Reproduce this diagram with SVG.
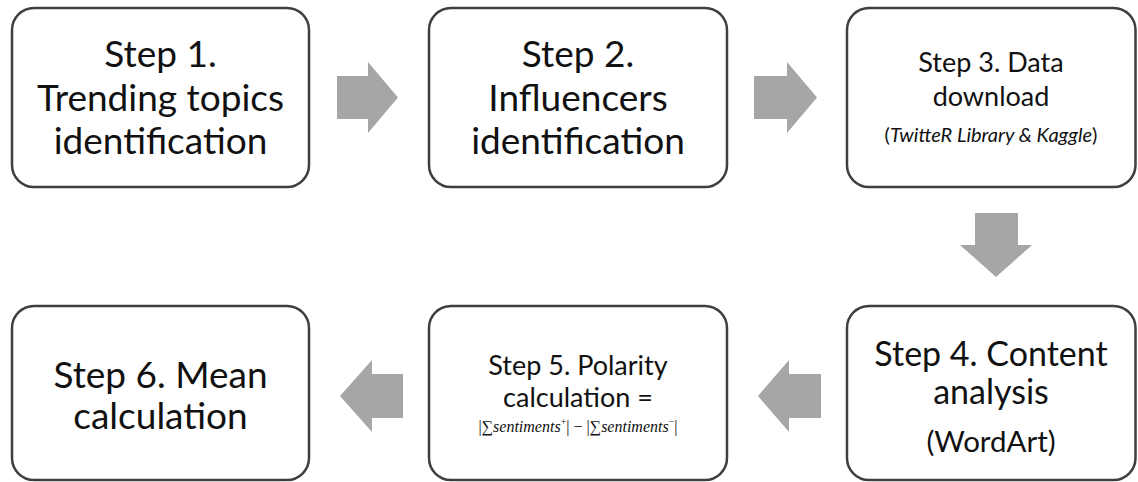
<svg xmlns="http://www.w3.org/2000/svg" width="1138" height="482" viewBox="0 0 1138 482">
  <style>
    .box { fill: #ffffff; stroke: #3f3f3f; stroke-width: 2.5; }
    .arrow { fill: #a6a6a6; stroke: none; }
    .t { font-family: Lato, "Open Sans", "Liberation Sans", sans-serif; fill: #111111; text-anchor: middle; }
    .big { font-size: 37px; }
    .b4 { font-size: 34px; }
    .mid { font-size: 27px; }
    .wa { font-size: 29.5px; }
    .small { font-size: 27px; }
    .note { font-size: 20px; }
    .f { font-family: "Liberation Serif", "DejaVu Serif", serif; font-size: 16px; fill: #111111; text-anchor: middle; }
  </style>
  <rect width="1138" height="482" fill="#ffffff"/>

  <!-- process steps -->
  <g id="step1">
    <rect class="box" x="12" y="8" width="297" height="179" rx="22"/>
    <text class="t big" x="160.5" y="67">Step 1.</text>
    <text class="t big" x="160.5" y="111">Trending topics</text>
    <text class="t big" x="160.5" y="154">identification</text>
  </g>
  <g id="step2">
    <rect class="box" x="429" y="8" width="298" height="179" rx="22"/>
    <text class="t big" x="578" y="67">Step 2.</text>
    <text class="t big" x="578" y="111">Influencers</text>
    <text class="t big" x="578" y="154">identification</text>
  </g>
  <g id="step3">
    <rect class="box" x="847" y="8" width="288.5" height="179" rx="22"/>
    <text class="t small" x="991" y="72">Step 3. Data</text>
    <text class="t small" x="991" y="106">download</text>
    <text class="t note" x="991" y="142">(<tspan font-style="italic">TwitteR Library &amp; Kaggle</tspan>)</text>
  </g>
  <g id="step4">
    <rect class="box" x="847" y="306" width="288.5" height="174" rx="22"/>
    <text class="t b4" x="991" y="366">Step 4. Content</text>
    <text class="t b4" x="991" y="404">analysis</text>
    <text class="t wa" x="991" y="452">(WordArt)</text>
  </g>
  <g id="step5">
    <rect class="box" x="429" y="306" width="298" height="174" rx="22"/>
    <text class="t mid" x="578" y="375">Step 5. Polarity</text>
    <text class="t mid" x="578" y="407">calculation =</text>
    <text class="f" x="578" y="432">|∑<tspan font-style="italic">sentiments</tspan><tspan font-size="10" dy="-7">+</tspan><tspan dy="7">| − |∑</tspan><tspan font-style="italic">sentiments</tspan><tspan font-size="10" dy="-7">−</tspan><tspan dy="7">|</tspan></text>
  </g>
  <g id="step6">
    <rect class="box" x="12" y="306" width="297" height="174" rx="22"/>
    <text class="t big" x="160.5" y="388">Step 6. Mean</text>
    <text class="t big" x="160.5" y="429">calculation</text>
  </g>

  <!-- block arrows between steps -->
  <g id="connectors">
    <polygon class="arrow" points="337,76 368,76 368,62 398,97.5 368,133 368,119 337,119"/>
    <polygon class="arrow" points="754,76 787,76 787,62 817,97.5 787,133 787,119 754,119"/>
    <polygon class="arrow" points="975,213 1018,213 1018,245 1032,245 996,277 960,245 975,245"/>
    <polygon class="arrow" points="821,374 789,374 789,360 758,396 789,432 789,418 821,418"/>
    <polygon class="arrow" points="403,374 372,374 372,360 340,396 372,432 372,418 403,418"/>
  </g>
</svg>
